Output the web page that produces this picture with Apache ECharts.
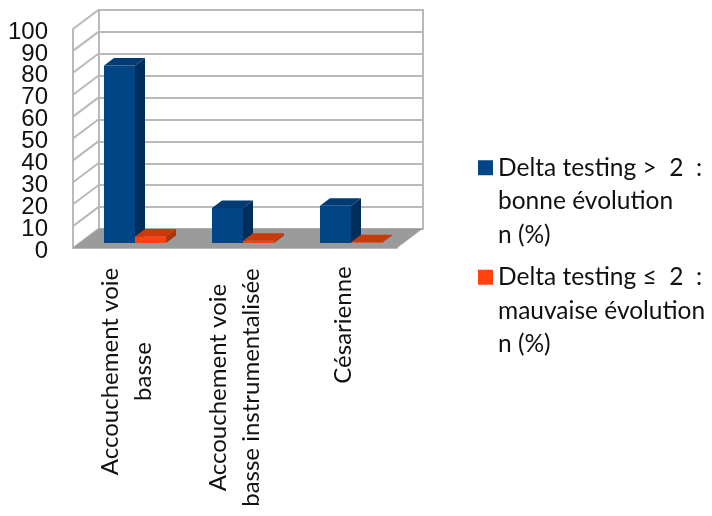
<!DOCTYPE html>
<html>
<head>
<meta charset="utf-8">
<style>
  html, body { margin: 0; padding: 0; background: #fff; }
  #chart { width: 712px; height: 516px; overflow: hidden; }
</style>
<script src="https://cdn.jsdelivr.net/npm/echarts@6/dist/echarts.min.js"></script>
</head>
<body>
<div id="chart"></div>
<script>
var categories = ["Accouchement voie\nbasse", "Accouchement voie\nbasse instrumentalisée", "Césarienne"];
var bonneEvolution = [81, 16, 17];
var mauvaiseEvolution = [3, 1, 0.3];
var yTicks = [0, 10, 20, 30, 40, 50, 60, 70, 80, 90, 100];
var seriesNames = ["Delta testing >  2  :\nbonne évolution\nn (%)", "Delta testing ≤  2  :\nmauvaise évolution\nn (%)"];

// pseudo 3D look, in px
var wallDx = 26, wallDy = -19.5;
var baseDx = 8, baseDy = -5;
var sideDx = 10, sideDy = -7.5;
var gridColor = "#b9b9b9";
var textFont = "Lato";

function bar3d(front, top, side, sign) {
  return function (params, api) {
    var p = api.coord([api.value(0), api.value(1)]);
    var y0 = api.coord([api.value(0), 0])[1] + baseDy;
    var w = api.size([1, 0])[0] * 0.287;
    var cx = p[0] + baseDx;
    var x1 = sign < 0 ? cx - w : cx;
    var x2 = x1 + w;
    var y1 = p[1] + baseDy;
    return {
      type: "group",
      children: [
        { type: "polygon", shape: { points: [[x2, y0], [x2 + sideDx, y0 + sideDy], [x2 + sideDx, y1 + sideDy], [x2, y1]] }, style: { fill: side } },
        { type: "polygon", shape: { points: [[x1, y1], [x2, y1], [x2 + sideDx, y1 + sideDy], [x1 + sideDx, y1 + sideDy]] }, style: { fill: top } },
        { type: "rect", shape: { x: x1, y: y1, width: w, height: y0 - y1 }, style: { fill: front } }
      ]
    };
  };
}

var labelWidths = [211, 243, 118];
var labelStyle = { align: "center", fontFamily: textFont, fontSize: 24, lineHeight: 33, color: "#111" };

var chart = echarts.init(document.getElementById("chart"));
var option = {
  animation: false,
  backgroundColor: "#fff",
  grid: [
    { left: 73, width: 324, top: 29, height: 219, outerBoundsMode: "none" },
    { left: 99, width: 324, top: 10, height: 219, outerBoundsMode: "none", show: true, borderColor: gridColor, borderWidth: 2 }
  ],
  legend: {
    data: seriesNames,
    orient: "vertical",
    left: 473,
    top: 79,
    itemWidth: 15,
    itemHeight: 15,
    itemGap: -58,
    icon: "rect",
    selectedMode: false,
    // blank lines keep the marker next to the first line of text
    formatter: function (name) { return "\n\n" + name; },
    textStyle: { fontFamily: textFont, fontSize: 24.5, color: "#111", lineHeight: 33.5 }
  },
  xAxis: [
    {
      type: "category",
      gridIndex: 0,
      data: categories,
      axisTick: { show: false },
      axisLine: { show: true, lineStyle: { color: gridColor, width: 2 } },
      axisLabel: {
        interval: 0,
        rotate: 90,
        margin: 18,
        hideOverlap: false,
        formatter: function (value, i) {
          var key = "w" + i;
          return value.split("\n").map(function (s) { return "{" + key + "|" + s + "}"; }).join("\n");
        },
        rich: {
          w0: Object.assign({ width: labelWidths[0] }, labelStyle),
          w1: Object.assign({ width: labelWidths[1] }, labelStyle),
          w2: Object.assign({ width: labelWidths[2] }, labelStyle)
        }
      }
    },
    { type: "category", gridIndex: 1, data: categories, show: false }
  ],
  yAxis: [
    {
      type: "value",
      gridIndex: 0,
      min: 0,
      max: 100,
      interval: 10,
      axisTick: { show: false },
      axisLine: { show: true, lineStyle: { color: gridColor, width: 2 } },
      splitLine: { show: false },
      // the axis drops labels this tight, they are drawn by the series below
      axisLabel: { show: false }
    },
    {
      type: "value",
      gridIndex: 1,
      min: 0,
      max: 100,
      interval: 10,
      axisLabel: { show: false },
      axisTick: { show: false },
      axisLine: { show: false },
      splitLine: { show: true, lineStyle: { color: gridColor, width: 2 } }
    }
  ],
  series: [
    {
      // tick labels
      type: "custom",
      silent: true,
      xAxisIndex: 0,
      yAxisIndex: 0,
      data: yTicks.map(function (t) { return [0, t]; }),
      renderItem: function (params, api) {
        var y = api.coord([0, api.value(1)])[1];
        return {
          type: "text",
          style: {
            x: params.coordSys.x - 25,
            y: y + 3,
            text: String(api.value(1)),
            align: "right",
            verticalAlign: "middle",
            fontFamily: "Liberation Sans",
            fontSize: 24,
            fill: "#111"
          }
        };
      }
    },
    {
      // side wall lines
      type: "custom",
      silent: true,
      xAxisIndex: 0,
      yAxisIndex: 0,
      data: yTicks.map(function (t) { return [0, t]; }),
      renderItem: function (params, api) {
        var x = params.coordSys.x;
        var y = api.coord([0, api.value(1)])[1];
        return {
          type: "line",
          shape: { x1: x, y1: y, x2: x + wallDx, y2: y + wallDy },
          style: { stroke: gridColor, lineWidth: 2, fill: null }
        };
      }
    },
    {
      // floor
      type: "custom",
      silent: true,
      xAxisIndex: 0,
      yAxisIndex: 0,
      data: [[0, 0]],
      renderItem: function (params, api) {
        var c = params.coordSys;
        var y = api.coord([0, 0])[1];
        return {
          type: "polygon",
          shape: { points: [[c.x, y], [c.x + wallDx, y + wallDy], [c.x + c.width + wallDx, y + wallDy], [c.x + c.width, y]] },
          style: { fill: "#9b9b9b" }
        };
      }
    },
    {
      name: seriesNames[0],
      type: "custom",
      xAxisIndex: 0,
      yAxisIndex: 0,
      itemStyle: { color: "#004586" },
      data: bonneEvolution.map(function (v, i) { return [i, v]; }),
      renderItem: bar3d("#004586", "#023a73", "#002e5c", -1)
    },
    {
      name: seriesNames[1],
      type: "custom",
      xAxisIndex: 0,
      yAxisIndex: 0,
      itemStyle: { color: "#ff420e" },
      data: mauvaiseEvolution.map(function (v, i) { return [i, v]; }),
      renderItem: bar3d("#ff420e", "#c83a0a", "#b0340b", 1)
    }
  ]
};
chart.setOption(option);
</script>
</body>
</html>
